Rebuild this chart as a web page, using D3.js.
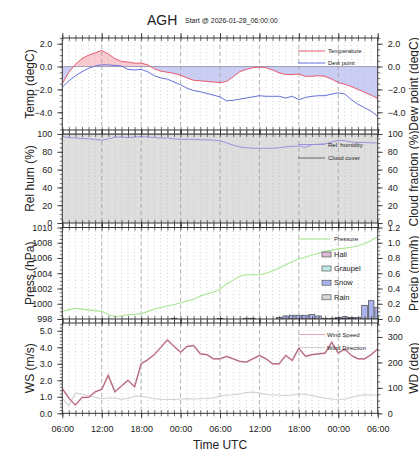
<!DOCTYPE html>
<html><head><meta charset="utf-8">
<script src="https://d3js.org/d3.v7.min.js"></script>
<style>
body{margin:0;background:#fff}
svg{display:block}
text{font-family:"Liberation Sans",Arial,Helvetica,sans-serif;fill:#222}
</style></head>
<body><svg id="c" width="419" height="449"></svg>
<script>
// ---------------- data (hourly, 2026-01-28 06:00 UTC .. 2026-01-30 06:00 UTC) ----------------
const stationName = "AGH";
const startLabel = "Start @ 2026-01-28_06:00:00";
const startTime = "2026-01-28T06:00:00Z";
const temperature = [-1.5,-0.5,0.2,0.7,1.0,1.2,1.4,1.1,0.7,0.45,0.4,0.3,0.3,0.15,-0.2,-0.4,-0.5,-0.6,-0.75,-1.0,-1.2,-1.25,-1.3,-1.35,-1.4,-1.3,-0.9,-0.45,-0.25,-0.1,-0.05,-0.1,-0.3,-0.55,-0.7,-0.7,-0.65,-0.85,-0.85,-0.8,-0.85,-1.1,-1.4,-1.55,-1.75,-2.0,-2.25,-2.5,-2.8];
const dewPoint = [-1.8,-1.25,-0.8,-0.45,-0.15,0.05,0.15,0.15,0.1,0.05,-0.25,-0.3,-0.25,-0.45,-0.8,-1.0,-1.1,-1.35,-1.6,-1.9,-2.1,-2.2,-2.35,-2.5,-2.65,-3.0,-2.95,-2.85,-2.75,-2.65,-2.55,-2.6,-2.6,-2.6,-2.75,-2.6,-2.9,-2.7,-2.6,-2.55,-2.55,-2.4,-2.3,-2.4,-2.9,-3.3,-3.6,-3.9,-4.35];
const relHumidity = [97,96,95.5,95,94.5,94,93,94.5,96.5,96.5,96,96.5,97,96.5,96,95.5,95.5,94.5,94,94,94,93.5,93.5,93,92.5,90,87.5,85.5,84.5,84,84,84,84,84.5,85.5,86,86.5,85,88,88.5,89,91,93,92.5,91,90.5,90.5,90,90];
const cloudCover = [100,100,100,100,100,100,100,100,100,100,100,100,100,100,100,100,100,100,100,100,100,100,100,100,100,100,100,100,100,100,100,100,100,100,100,100,100,100,100,100,100,100,100,100,100,100,100,100,100];
const pressure = [999.0,999.2,999.4,999.3,999.2,999.1,999.0,998.6,998.3,998.4,998.6,998.6,998.7,999.0,999.3,999.5,999.7,999.9,1000.1,1000.4,1000.6,1001.0,1001.3,1001.5,1001.9,1002.6,1003.1,1003.6,1003.8,1003.8,1003.8,1004.0,1004.3,1004.7,1005.1,1005.5,1005.9,1006.1,1006.4,1006.6,1006.9,1007.0,1007.2,1007.3,1007.4,1007.6,1007.9,1008.3,1008.8];
const rain = [0,0,0,0,0,0,0,0,0,0,0,0,0,0,0,0,0,0.01,0,0,0,0,0,0,0.005,0,0,0,0.01,0.01,0,0,0,0,0,0,0,0,0,0,0.01,0.01,0.01,0.01,0.01,0,0,0,0];
const snow = [0,0,0,0,0,0,0,0,0,0,0,0,0,0,0,0,0,0,0,0,0,0,0,0,0,0,0,0,0,0,0,0,0,0.02,0.04,0.05,0.05,0.05,0.06,0.04,0.0,0.0,0.01,0.02,0.01,0.02,0.18,0.24,0.15];
const graupel = new Array(49).fill(0);
const hail = new Array(49).fill(0);
const windSpeed = [1.5,0.92,0.5,0.96,0.96,1.3,1.45,2.3,1.3,1.65,2.0,1.6,3.0,3.25,3.55,4.0,4.45,4.05,3.7,4.05,4.1,3.6,3.55,3.3,3.3,3.45,3.3,3.15,3.1,3.3,3.5,3.3,3.0,3.0,3.5,3.2,3.95,3.45,3.55,3.6,3.65,4.3,3.65,3.9,3.5,3.3,3.3,3.55,3.9];
const windDir = [60,30,80,75,70,63,57,60,60,55,58,68,67,62,57,55,54,54,56,57,56,57,58,60,68,72,73,76,82,84,80,74,72,72,70,72,76,74,70,64,59,56,55,55,62,70,73,72,71];
const xTickFormat = "%H:%M";

// ---------------- setup ----------------
const svg = d3.select("#c");
const t0 = new Date(startTime);
const times = temperature.map((_, i) => new Date(t0.getTime() + i * 3600e3));
const x = d3.scaleUtc().domain([times[0], times[times.length - 1]]).range([62.3, 377.7]);
const xL = x.range()[0], xR = x.range()[1];
const hourTicks = d3.utcHour.every(1).range(times[0], new Date(times[times.length-1].getTime()+1));
const majorTicks = d3.utcHour.every(6).range(times[0], new Date(times[times.length-1].getTime()+1));

const panels = [
  {top: 38, bottom: 130},
  {top: 134, bottom: 223},
  {top: 227.5, bottom: 319},
  {top: 323, bottom: 413.3}
];
const defs = svg.append("defs");
panels.forEach((p, i) => {
  defs.append("clipPath").attr("id", "clip" + i).append("rect")
    .attr("x", xL).attr("y", p.top).attr("width", xR - xL).attr("height", p.bottom - p.top);
});

function grid(g, p) {
  g.selectAll(".gm").data(hourTicks).join("line")
    .attr("x1", d => x(d)).attr("x2", d => x(d)).attr("y1", p.top).attr("y2", p.bottom)
    .attr("stroke", "#bdbdbd").attr("stroke-width", 0.7).attr("stroke-dasharray", "1,2.5");
  g.selectAll(".gM").data(majorTicks.slice(1, -1)).join("line")
    .attr("x1", d => x(d)).attr("x2", d => x(d)).attr("y1", p.top).attr("y2", p.bottom)
    .attr("stroke", "#9a9a9a").attr("stroke-width", 0.7).attr("stroke-dasharray", "4,3");
}
function frame(g, p, showXLabels) {
  g.append("rect").attr("x", xL).attr("y", p.top).attr("width", xR - xL).attr("height", p.bottom - p.top)
    .attr("fill", "none").attr("stroke", "#333").attr("stroke-width", 1);
  const top = d3.axisTop(x).ticks(d3.utcHour.every(1)).tickSize(3).tickFormat("");
  const bot = d3.axisBottom(x).ticks(d3.utcHour.every(1)).tickSize(3).tickFormat("");
  const gt = g.append("g").attr("transform", `translate(0,${p.top})`).call(top);
  const gb = g.append("g").attr("transform", `translate(0,${p.bottom})`).call(bot);
  [gt, gb].forEach(a => { a.select(".domain").remove(); a.selectAll("line").attr("stroke", "#333").attr("stroke-width", 0.7); });
  const topM = d3.axisTop(x).ticks(d3.utcHour.every(6)).tickSize(5).tickFormat("");
  const gtM = g.append("g").attr("transform", `translate(0,${p.top})`).call(topM);
  const botM = d3.axisBottom(x).ticks(d3.utcHour.every(6)).tickSize(5)
      .tickFormat(showXLabels ? d3.utcFormat(xTickFormat) : "").tickPadding(7);
  const gbM = g.append("g").attr("transform", `translate(0,${p.bottom})`).call(botM);
  [gtM, gbM].forEach(a => { a.select(".domain").remove(); a.selectAll("line").attr("stroke", "#333").attr("stroke-width", 0.9); });
  gbM.selectAll("text").attr("font-size", 9).attr("fill", "#222").attr("font-family", '"Liberation Sans",Arial,sans-serif');
  const topIn = d3.axisBottom(x).ticks(d3.utcHour.every(1)).tickSize(3).tickFormat("");
  const botIn = d3.axisTop(x).ticks(d3.utcHour.every(1)).tickSize(3).tickFormat("");
  const gti = g.append("g").attr("transform", `translate(0,${p.top})`).call(topIn);
  const gbi = g.append("g").attr("transform", `translate(0,${p.bottom})`).call(botIn);
  [gti, gbi].forEach(a => { a.select(".domain").remove(); a.selectAll("line").attr("stroke", "#333").attr("stroke-width", 0.7); });
}
function yAxis(g, scale, side, majors, minors, fmt) {
  const ax = (side === "left" ? d3.axisLeft(scale) : d3.axisRight(scale))
    .tickValues(majors).tickSize(5).tickPadding(5).tickFormat(fmt);
  const gx = g.append("g").attr("transform", `translate(${side === "left" ? xL : xR},0)`).call(ax);
  gx.select(".domain").remove();
  gx.selectAll("line").attr("stroke", "#333").attr("stroke-width", 0.9);
  gx.selectAll("text").attr("font-size", 9).attr("fill", "#222").attr("font-family", '"Liberation Sans",Arial,sans-serif');
  const axm = (side === "left" ? d3.axisLeft(scale) : d3.axisRight(scale)).tickValues(minors).tickSize(2.5).tickFormat("");
  const gm = g.append("g").attr("transform", `translate(${side === "left" ? xL : xR},0)`).call(axm);
  gm.select(".domain").remove();
  gm.selectAll("line").attr("stroke", "#333").attr("stroke-width", 0.7);
}
function yTitle(text, p, side) {
  const cy = (p.top + p.bottom) / 2;
  const xx = side === "left" ? 34 : 418;
  svg.append("text").attr("transform", `translate(${xx},${cy}) rotate(-90)`)
    .attr("text-anchor", "middle").attr("font-size", 12).text(text);
}
function legendLine(items, x1, x2, tx) {
  items.forEach(it => {
    svg.append("line").attr("x1", x1).attr("x2", x2).attr("y1", it.y).attr("y2", it.y)
      .attr("stroke", it.color).attr("stroke-width", it.w || 1);
    svg.append("text").attr("x", tx).attr("y", it.y + 2).attr("font-size", 6).text(it.label);
  });
}
const range = (a, b, s) => d3.range(a, b + s / 2, s).map(v => +v.toFixed(4));

// ---------------- title ----------------
svg.append("text").attr("x", 147).attr("y", 25).attr("font-size", 14).text(stationName);
svg.append("text").attr("x", 185).attr("y", 22.5).attr("font-size", 7).text(startLabel);

// ---------------- panel 1: temperature / dew point ----------------
{
  const p = panels[0];
  const y = d3.scaleLinear().domain([-5.55, 2.5]).range([p.bottom, p.top]);
  const g = svg.append("g");
  const gc = g.append("g").attr("clip-path", "url(#clip0)");
  defs.append("clipPath").attr("id", "abv").append("rect").attr("x", xL).attr("y", p.top).attr("width", xR - xL).attr("height", y(0) - p.top);
  defs.append("clipPath").attr("id", "blw").append("rect").attr("x", xL).attr("y", y(0)).attr("width", xR - xL).attr("height", p.bottom - y(0));
  const area = d3.area().x((d, i) => x(times[i])).y0(y(0)).y1(d => y(d));
  gc.append("path").datum(temperature).attr("d", area).attr("fill", "#f9cacf").attr("clip-path", "url(#abv)");
  gc.append("path").datum(temperature).attr("d", area).attr("fill", "#cbcef4").attr("clip-path", "url(#blw)");
  grid(gc, p);
  gc.append("line").attr("x1", xL).attr("x2", xR).attr("y1", y(0)).attr("y2", y(0)).attr("stroke", "#8a8ea8").attr("stroke-width", 0.8);
  const line = d3.line().x((d, i) => x(times[i])).y(d => y(d));
  gc.append("path").datum(temperature).attr("d", line).attr("fill", "none").attr("stroke", "#e8586e").attr("stroke-width", 1);
  gc.append("path").datum(dewPoint).attr("d", line).attr("fill", "none").attr("stroke", "#6470dc").attr("stroke-width", 1);
  frame(g, p, false);
  const maj = [2, 0, -2, -4], mins = range(-5.5, 2.5, 0.5);
  yAxis(g, y, "left", maj, mins, d3.format(".1f"));
  yAxis(g, y, "right", maj, mins, d3.format(".1f"));
  yTitle("Temp (degC)", p, "left");
  yTitle("Dew point (degC)", p, "right");
  legendLine([{y: 51, color: "#e8586e", label: "Temperature"}, {y: 63, color: "#6470dc", label: "Dew point"}], 298, 325, 328);
}

// ---------------- panel 2: rel hum / cloud ----------------
{
  const p = panels[1];
  const y = d3.scaleLinear().domain([0, 100]).range([p.bottom, p.top]);
  const g = svg.append("g");
  const gc = g.append("g").attr("clip-path", "url(#clip1)");
  gc.append("path").datum(cloudCover).attr("d", d3.area().x((d, i) => x(times[i])).y0(y(0)).y1(d => y(d))).attr("fill", "#dedede");
  grid(gc, p);
  const line = d3.line().x((d, i) => x(times[i])).y(d => y(d));
  gc.append("path").datum(cloudCover).attr("d", line).attr("fill", "none").attr("stroke", "#666").attr("stroke-width", 1);
  gc.append("path").datum(relHumidity).attr("d", line).attr("fill", "none").attr("stroke", "#9d90e0").attr("stroke-width", 1);
  frame(g, p, false);
  const maj = [0, 20, 40, 60, 80, 100], mins = range(0, 100, 5);
  yAxis(g, y, "left", maj, mins, d3.format("d"));
  yAxis(g, y, "right", maj, mins, d3.format("d"));
  yTitle("Rel hum (%)", p, "left");
  yTitle("Cloud fraction (%)", p, "right");
  legendLine([{y: 144.5, color: "#9d90e0", label: "Rel. humidity"}, {y: 158, color: "#666", label: "Cloud cover"}], 298, 325, 328);
}

// ---------------- panel 3: pressure / precip ----------------
{
  const p = panels[2];
  const y = d3.scaleLinear().domain([998, 1010]).range([p.bottom, p.top]);
  const yp = d3.scaleLinear().domain([0, 1.2]).range([p.bottom, p.top]);
  const g = svg.append("g");
  const gc = g.append("g").attr("clip-path", "url(#clip2)");
  grid(gc, p);
  const keys = ["rain", "snow", "graupel", "hail"];
  const colors = {rain: "#d6d6d6", snow: "#aab3ec", graupel: "#bfe9e9", hail: "#dcb9d6"};
  const table = times.map((t, i) => ({t, rain: rain[i], snow: snow[i], graupel: graupel[i], hail: hail[i]}));
  const stack = d3.stack().keys(keys)(table);
  const bw = (x(times[1]) - x(times[0])) * 0.86;
  stack.forEach(layer => {
    gc.selectAll(null).data(layer.filter(d => d[1] - d[0] > 0)).join("rect")
      .attr("x", d => x(d.data.t) - bw / 2).attr("width", bw)
      .attr("y", d => yp(d[1])).attr("height", d => yp(d[0]) - yp(d[1]))
      .attr("fill", colors[layer.key]).attr("stroke", "#333").attr("stroke-width", 0.6);
  });
  const line = d3.line().x((d, i) => x(times[i])).y(d => y(d));
  gc.append("path").datum(pressure).attr("d", line).attr("fill", "none").attr("stroke", "#a8e690").attr("stroke-width", 1.1);
  frame(g, p, false);
  yAxis(g, y, "left", range(998, 1010, 2), range(998, 1010, 0.5), d3.format("d"));
  yAxis(g, yp, "right", range(0, 1.2, 0.2), range(0, 1.2, 0.05), d3.format(".1f"));
  yTitle("Press (hPa)", p, "left");
  yTitle("Precip (mm/h)", p, "right");
  legendLine([{y: 239, color: "#a8e690", label: "Pressure", w: 1.1}], 298, 330, 334);
  const leg = [{k: "hail", label: "Hail", y: 254.5}, {k: "graupel", label: "Graupel", y: 268.5}, {k: "snow", label: "Snow", y: 282.7}, {k: "rain", label: "Rain", y: 297.3}];
  leg.forEach(l => {
    svg.append("rect").attr("x", 322).attr("y", l.y - 2.5).attr("width", 9).attr("height", 5)
      .attr("fill", colors[l.k]).attr("stroke", "#444").attr("stroke-width", 0.6);
    svg.append("text").attr("x", 334).attr("y", l.y + 2.6).attr("font-size", 7.5).text(l.label);
  });
}

// ---------------- panel 4: wind ----------------
{
  const p = panels[3];
  const y = d3.scaleLinear().domain([0, 5.47]).range([p.bottom, p.top]);
  const yd = d3.scaleLinear().domain([0, 355]).range([p.bottom, p.top]);
  const g = svg.append("g");
  const gc = g.append("g").attr("clip-path", "url(#clip3)");
  grid(gc, p);
  const lineD = d3.line().x((d, i) => x(times[i])).y(d => yd(d));
  gc.append("path").datum(windDir).attr("d", lineD).attr("fill", "none").attr("stroke", "#cfcfcf").attr("stroke-width", 1.1);
  const line = d3.line().x((d, i) => x(times[i])).y(d => y(d));
  gc.append("path").datum(windSpeed).attr("d", line).attr("fill", "none").attr("stroke", "#e6abb8").attr("stroke-width", 1.8);
  gc.append("path").datum(windSpeed).attr("d", line).attr("fill", "none").attr("stroke", "#86485a").attr("stroke-width", 0.7);
  frame(g, p, true);
  yAxis(g, y, "left", range(0, 5, 1), range(0, 5.4, 0.2), d3.format(".1f"));
  yAxis(g, yd, "right", [0, 100, 200, 300], range(0, 350, 25), d3.format("d"));
  yTitle("WS (m/s)", p, "left");
  yTitle("WD (deg)", p, "right");
  legendLine([{y: 334.5, color: "#e6abb8", label: "Wind Speed"}, {y: 347.5, color: "#cfcfcf", label: "Wind Direction"}], 298, 325, 327);
}

svg.append("text").attr("x", 220).attr("y", 449).attr("text-anchor", "middle").attr("font-size", 12).text("Time UTC");
</script>
</body></html>
